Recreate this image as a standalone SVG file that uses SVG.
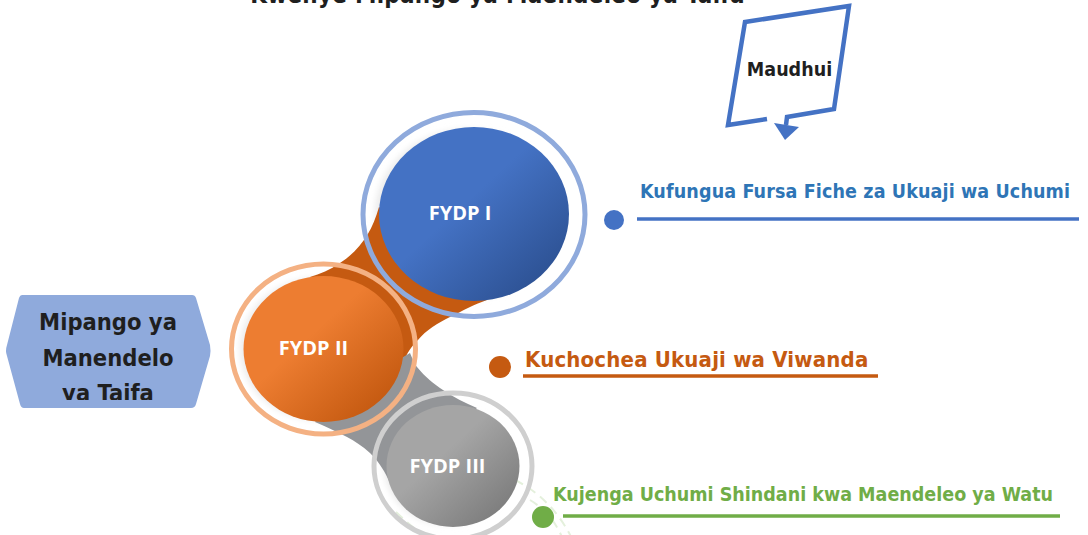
<svg xmlns="http://www.w3.org/2000/svg" width="1088" height="535" viewBox="0 0 1088 535">
<style>
text{font-family:"DejaVu Sans","Noto Sans",sans-serif;font-stretch:condensed;font-weight:700}
.lbl{font-family:"Open Sans","Noto Sans",sans-serif;font-stretch:normal;fill:#fff;font-size:20px;text-anchor:middle}
.hex{fill:#1f1f1f;font-size:23.500px;text-anchor:middle}
.soft{fill:#ebebeb;filter:url(#blur)}
.wm{fill:none;stroke:#e4f0dc;stroke-width:2;stroke-dasharray:9 6}
</style>
<defs>
<filter id="blur" x="-20%" y="-20%" width="140%" height="140%"><feGaussianBlur stdDeviation="3"/></filter>
<linearGradient id="gb" x1=".2" y1=".3" x2=".85" y2=".95"><stop offset=".3" stop-color="#4472c4"/><stop offset="1" stop-color="#2c5091"/></linearGradient>
<linearGradient id="go" x1=".2" y1=".3" x2=".85" y2=".95"><stop offset=".25" stop-color="#ed7d31"/><stop offset=".95" stop-color="#c55a11"/></linearGradient>
<linearGradient id="gg" x1=".2" y1=".3" x2=".85" y2=".95"><stop offset=".25" stop-color="#a5a5a5"/><stop offset="1" stop-color="#7b7b7b"/></linearGradient>
<clipPath id="hexclip"><rect x="0" y="290" width="220" height="110"/></clipPath>
</defs>
<path class="wm" d="M396 512Q420 535 440 545M515 480Q555 500 575 545"/>
<path class="wm" d="M530 500Q555 515 565 545"/>
<text x="497.500" y="3" fill="#1f1f1f" text-anchor="middle" style="font-size:24px;letter-spacing:.25px">Kwenye Mipango ya Maendeleo ya Taifa</text>
<ellipse class="soft" cx="468" cy="214" rx="93" ry="85"/>
<ellipse class="soft" cx="318" cy="349" rx="78" ry="71"/>
<ellipse class="soft" cx="448" cy="466" rx="64" ry="59"/>
<g id="connectors">
<path d="M379 207C372 232 360 250 340 263C330 270 320 274 310 277L403 363C407 352 413 345 418 340C426 330 438 323 450 317C462 311 475 304 487 300Z" fill="#c55a11"/>
<path d="M410 353C413 360 414 363 417 367C425 377 434 384 443 390C453 397 465 403 477 408L390 483C385 472 380 463 370 453C362 446 355 441 347 437C337 432 327 427 315 422L330 400Z" fill="#939598"/>
</g>
<g id="node-fydp3">
<ellipse cx="453" cy="466" rx="79" ry="73" fill="none" stroke="#cfcfcf" stroke-width="5"/>
<ellipse cx="453" cy="466" rx="66.500" ry="61" fill="url(#gg)"/>
<text class="lbl" x="447.500" y="473">FYDP III</text>
</g>
<g id="node-fydp2">
<ellipse cx="323.500" cy="349" rx="80" ry="73" fill="url(#go)"/>
<ellipse cx="323.500" cy="349" rx="92" ry="85" fill="none" stroke="#f4b183" stroke-width="5"/>
<text class="lbl" x="313.500" y="355">FYDP II</text>
</g>
<g id="node-fydp1">
<ellipse cx="474" cy="214" rx="95" ry="87" fill="url(#gb)"/>
<ellipse cx="474" cy="214.500" rx="111" ry="102" fill="none" stroke="#8faadc" stroke-width="5"/>
<text class="lbl" x="460" y="220">FYDP I</text>
</g>
<g id="node-mipango">
<path d="M22 295H192Q195 295 196 298L210 345Q211 351 210 356L196 404Q195 408 191 408H24Q21 408 20 404L7 356Q5 351 7 345L19 298Q20 295 22 295Z" fill="#8faadc"/>
<g clip-path="url(#hexclip)"><text class="hex" x="108" y="330">Mipango ya</text><text class="hex" x="108" y="366">Manendelo</text><text class="hex" x="108" y="401">ya Taifa</text></g>
</g>
<g id="node-maudhui">
<path d="M767 119L728 125L745 22L849 6L834 109L787 117L786 125" fill="none" stroke="#4472c4" stroke-width="4.500"/>
<path d="M774 123L799 127L785 140Z" fill="#4472c4"/>
<text x="789.500" y="76" fill="#1f1f1f" text-anchor="middle" style="font-size:19.500px">Maudhui</text>
</g>
<g id="node-item1">
<circle cx="614" cy="220" r="10" fill="#4472c4"/>
<text x="640" y="198" fill="#2e75b6" style="font-size:19.500px;letter-spacing:.12px">Kufungua Fursa Fiche za Ukuaji wa Uchumi</text>
<path d="M637 219H1079" stroke="#4472c4" stroke-width="3.500"/>
</g>
<g id="node-item2">
<circle cx="500" cy="367" r="11" fill="#c55a11"/>
<text x="525" y="367" fill="#c55a11" style="font-size:22px;letter-spacing:.18px">Kuchochea Ukuaji wa Viwanda</text>
<path d="M523 376H878" stroke="#c55a11" stroke-width="3.500"/>
</g>
<g id="node-item3">
<circle cx="543" cy="517" r="11" fill="#70ad47"/>
<text x="553" y="501" fill="#70ad47" style="font-size:19.500px">Kujenga Uchumi Shindani kwa Maendeleo ya Watu</text>
<path d="M563 516H1060" stroke="#70ad47" stroke-width="3.500"/>
</g>
</svg>
